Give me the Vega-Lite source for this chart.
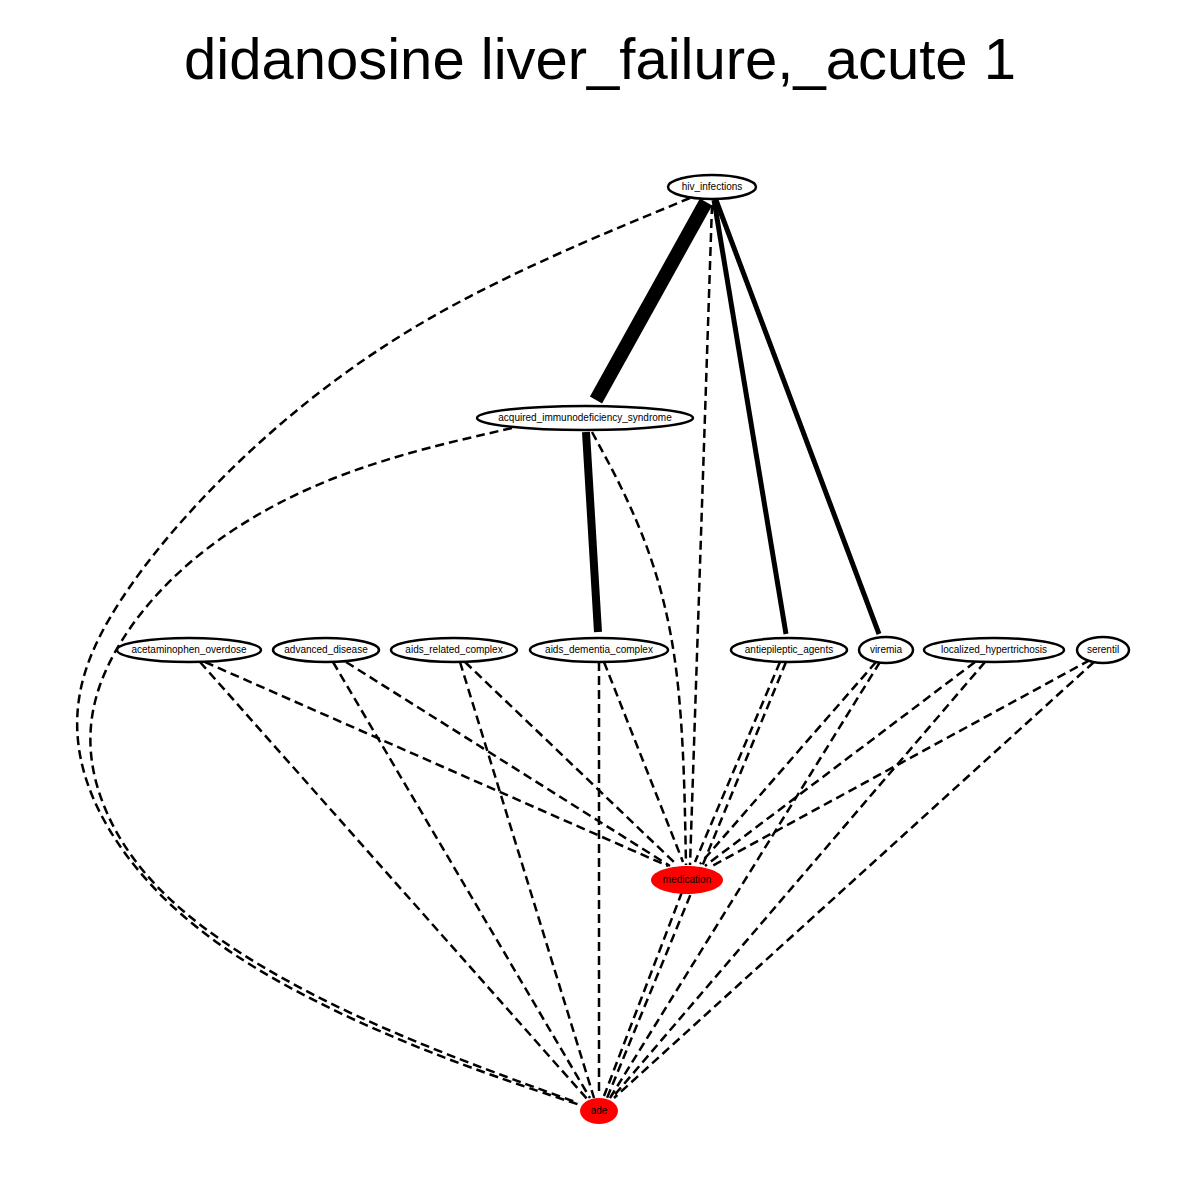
{
  "$schema": "https://vega.github.io/schema/vega-lite/v6.json",
  "width": 1200,
  "height": 1200,
  "autosize": {"type": "fit", "contains": "padding"},
  "padding": 0,
  "background": "white",
  "config": {"view": {"stroke": null}},
  "datasets": {
    "edges": [
      {"edge": "hiv-aids", "i": 0, "x": 706, "y": 202, "style": "solid", "w": 14},
      {"edge": "hiv-aids", "i": 1, "x": 596, "y": 400, "style": "solid", "w": 14},
      {"edge": "aids-dem", "i": 0, "x": 586, "y": 432, "style": "solid", "w": 8},
      {"edge": "aids-dem", "i": 1, "x": 598, "y": 632, "style": "solid", "w": 8},
      {"edge": "hiv-anti", "i": 0, "x": 714, "y": 200, "style": "solid", "w": 5},
      {"edge": "hiv-anti", "i": 1, "x": 786, "y": 634, "style": "solid", "w": 5},
      {"edge": "hiv-vir", "i": 0, "x": 716, "y": 200, "style": "solid", "w": 5},
      {"edge": "hiv-vir", "i": 1, "x": 879, "y": 634, "style": "solid", "w": 5},
      {"edge": "hiv-ade", "i": 0, "x": 690, "y": 198, "style": "dashed", "w": 2.5},
      {"edge": "hiv-ade", "i": 1, "x": 420, "y": 310, "style": "dashed", "w": 2.5},
      {"edge": "hiv-ade", "i": 2, "x": 230, "y": 460, "style": "dashed", "w": 2.5},
      {"edge": "hiv-ade", "i": 3, "x": 105, "y": 610, "style": "dashed", "w": 2.5},
      {"edge": "hiv-ade", "i": 4, "x": 66, "y": 715, "style": "dashed", "w": 2.5},
      {"edge": "hiv-ade", "i": 5, "x": 95, "y": 825, "style": "dashed", "w": 2.5},
      {"edge": "hiv-ade", "i": 6, "x": 200, "y": 945, "style": "dashed", "w": 2.5},
      {"edge": "hiv-ade", "i": 7, "x": 400, "y": 1045, "style": "dashed", "w": 2.5},
      {"edge": "hiv-ade", "i": 8, "x": 580, "y": 1105, "style": "dashed", "w": 2.5},
      {"edge": "aids-ade", "i": 0, "x": 512, "y": 428, "style": "dashed", "w": 2.5},
      {"edge": "aids-ade", "i": 1, "x": 330, "y": 470, "style": "dashed", "w": 2.5},
      {"edge": "aids-ade", "i": 2, "x": 175, "y": 560, "style": "dashed", "w": 2.5},
      {"edge": "aids-ade", "i": 3, "x": 82, "y": 690, "style": "dashed", "w": 2.5},
      {"edge": "aids-ade", "i": 4, "x": 92, "y": 805, "style": "dashed", "w": 2.5},
      {"edge": "aids-ade", "i": 5, "x": 170, "y": 915, "style": "dashed", "w": 2.5},
      {"edge": "aids-ade", "i": 6, "x": 350, "y": 1020, "style": "dashed", "w": 2.5},
      {"edge": "aids-ade", "i": 7, "x": 578, "y": 1103, "style": "dashed", "w": 2.5},
      {"edge": "aids-med", "i": 0, "x": 592, "y": 432, "style": "dashed", "w": 2.5},
      {"edge": "aids-med", "i": 1, "x": 645, "y": 530, "style": "dashed", "w": 2.5},
      {"edge": "aids-med", "i": 2, "x": 682, "y": 660, "style": "dashed", "w": 2.5},
      {"edge": "aids-med", "i": 3, "x": 686, "y": 865, "style": "dashed", "w": 2.5},
      {"edge": "hiv-med", "i": 0, "x": 712, "y": 205, "style": "dashed", "w": 2.5},
      {"edge": "hiv-med", "i": 1, "x": 690, "y": 865, "style": "dashed", "w": 2.5},
      {"edge": "acet-med", "i": 0, "x": 205, "y": 662, "style": "dashed", "w": 2.5},
      {"edge": "acet-med", "i": 1, "x": 668, "y": 866, "style": "dashed", "w": 2.5},
      {"edge": "acet-ade", "i": 0, "x": 200, "y": 662, "style": "dashed", "w": 2.5},
      {"edge": "acet-ade", "i": 1, "x": 588, "y": 1100, "style": "dashed", "w": 2.5},
      {"edge": "adv-med", "i": 0, "x": 346, "y": 662, "style": "dashed", "w": 2.5},
      {"edge": "adv-med", "i": 1, "x": 670, "y": 866, "style": "dashed", "w": 2.5},
      {"edge": "adv-ade", "i": 0, "x": 333, "y": 662, "style": "dashed", "w": 2.5},
      {"edge": "adv-ade", "i": 1, "x": 590, "y": 1098, "style": "dashed", "w": 2.5},
      {"edge": "arc-med", "i": 0, "x": 465, "y": 662, "style": "dashed", "w": 2.5},
      {"edge": "arc-med", "i": 1, "x": 676, "y": 864, "style": "dashed", "w": 2.5},
      {"edge": "arc-ade", "i": 0, "x": 460, "y": 662, "style": "dashed", "w": 2.5},
      {"edge": "arc-ade", "i": 1, "x": 594, "y": 1098, "style": "dashed", "w": 2.5},
      {"edge": "dem-med", "i": 0, "x": 604, "y": 662, "style": "dashed", "w": 2.5},
      {"edge": "dem-med", "i": 1, "x": 683, "y": 862, "style": "dashed", "w": 2.5},
      {"edge": "dem-ade", "i": 0, "x": 599, "y": 662, "style": "dashed", "w": 2.5},
      {"edge": "dem-ade", "i": 1, "x": 599, "y": 1096, "style": "dashed", "w": 2.5},
      {"edge": "anti-med", "i": 0, "x": 780, "y": 662, "style": "dashed", "w": 2.5},
      {"edge": "anti-med", "i": 1, "x": 695, "y": 862, "style": "dashed", "w": 2.5},
      {"edge": "anti-ade", "i": 0, "x": 786, "y": 662, "style": "dashed", "w": 2.5},
      {"edge": "anti-ade", "i": 1, "x": 607, "y": 1098, "style": "dashed", "w": 2.5},
      {"edge": "vir-med", "i": 0, "x": 876, "y": 662, "style": "dashed", "w": 2.5},
      {"edge": "vir-med", "i": 1, "x": 700, "y": 864, "style": "dashed", "w": 2.5},
      {"edge": "vir-ade", "i": 0, "x": 880, "y": 662, "style": "dashed", "w": 2.5},
      {"edge": "vir-ade", "i": 1, "x": 610, "y": 1098, "style": "dashed", "w": 2.5},
      {"edge": "loc-med", "i": 0, "x": 975, "y": 662, "style": "dashed", "w": 2.5},
      {"edge": "loc-med", "i": 1, "x": 705, "y": 866, "style": "dashed", "w": 2.5},
      {"edge": "loc-ade", "i": 0, "x": 985, "y": 662, "style": "dashed", "w": 2.5},
      {"edge": "loc-ade", "i": 1, "x": 612, "y": 1098, "style": "dashed", "w": 2.5},
      {"edge": "ser-med", "i": 0, "x": 1090, "y": 660, "style": "dashed", "w": 2.5},
      {"edge": "ser-med", "i": 1, "x": 712, "y": 866, "style": "dashed", "w": 2.5},
      {"edge": "ser-ade", "i": 0, "x": 1094, "y": 662, "style": "dashed", "w": 2.5},
      {"edge": "ser-ade", "i": 1, "x": 614, "y": 1098, "style": "dashed", "w": 2.5},
      {"edge": "med-ade", "i": 0, "x": 682, "y": 892, "style": "dashed", "w": 2.5},
      {"edge": "med-ade", "i": 1, "x": 604, "y": 1096, "style": "dashed", "w": 2.5}
    ],
    "nodes": [
      {"node": "hiv_infections", "x": 712, "y": 187, "kind": "node"},
      {"node": "acquired_immunodeficiency_syndrome", "x": 585, "y": 418, "kind": "node"},
      {"node": "acetaminophen_overdose", "x": 189, "y": 650, "kind": "node"},
      {"node": "advanced_disease", "x": 326, "y": 650, "kind": "node"},
      {"node": "aids_related_complex", "x": 454, "y": 650, "kind": "node"},
      {"node": "aids_dementia_complex", "x": 599, "y": 650, "kind": "node"},
      {"node": "antiepileptic_agents", "x": 789, "y": 650, "kind": "node"},
      {"node": "viremia", "x": 886, "y": 650, "kind": "node"},
      {"node": "localized_hypertrichosis", "x": 994, "y": 650, "kind": "node"},
      {"node": "serentil", "x": 1103, "y": 650, "kind": "node"},
      {"node": "medication", "x": 687, "y": 880, "kind": "outcome"},
      {"node": "ade", "x": 599, "y": 1111, "kind": "outcome"}
    ],
    "title": [
      {"label": "didanosine liver_failure,_acute 1", "x": 600, "y": 62}
    ]
  },
  "encoding": {
    "x": {"field": "x", "type": "quantitative", "scale": {"domain": [0, 1200]}, "axis": null},
    "y": {"field": "y", "type": "quantitative", "scale": {"domain": [0, 1200], "reverse": true}, "axis": null}
  },
  "layer": [
    {
      "data": {"name": "edges"},
      "mark": {"type": "line", "interpolate": "basis", "color": "black", "strokeCap": "butt"},
      "encoding": {
        "detail": {"field": "edge"},
        "order": {"field": "i", "type": "quantitative"},
        "strokeDash": {"field": "style", "type": "nominal", "scale": {"domain": ["solid", "dashed"], "range": [[1, 0], [9, 5]]}, "legend": null},
        "strokeWidth": {"field": "w", "type": "quantitative", "scale": {"domain": [0, 14], "range": [0, 14]}, "legend": null}
      }
    },
    {
      "data": {"name": "nodes"},
      "mark": {"type": "point", "filled": true, "size": 4, "stroke": "black"},
      "encoding": {
        "shape": {
          "field": "node", "type": "nominal", "legend": null,
          "scale": {
            "domain": ["hiv_infections", "acquired_immunodeficiency_syndrome", "acetaminophen_overdose", "advanced_disease", "aids_related_complex", "aids_dementia_complex", "antiepileptic_agents", "viremia", "localized_hypertrichosis", "serentil", "medication", "ade"],
            "range": [
              "M -44 0 A 44 12 0 1 1 44 0 A 44 12 0 1 1 -44 0 Z",
              "M -108 0 A 108 12 0 1 1 108 0 A 108 12 0 1 1 -108 0 Z",
              "M -72 0 A 72 12 0 1 1 72 0 A 72 12 0 1 1 -72 0 Z",
              "M -53 0 A 53 12 0 1 1 53 0 A 53 12 0 1 1 -53 0 Z",
              "M -63 0 A 63 12 0 1 1 63 0 A 63 12 0 1 1 -63 0 Z",
              "M -69 0 A 69 12 0 1 1 69 0 A 69 12 0 1 1 -69 0 Z",
              "M -58 0 A 58 12 0 1 1 58 0 A 58 12 0 1 1 -58 0 Z",
              "M -27 0 A 27 13 0 1 1 27 0 A 27 13 0 1 1 -27 0 Z",
              "M -70 0 A 70 12 0 1 1 70 0 A 70 12 0 1 1 -70 0 Z",
              "M -26 0 A 26 13 0 1 1 26 0 A 26 13 0 1 1 -26 0 Z",
              "M -36 0 A 36 14 0 1 1 36 0 A 36 14 0 1 1 -36 0 Z",
              "M -19 0 A 19 13 0 1 1 19 0 A 19 13 0 1 1 -19 0 Z"
            ]
          }
        },
        "fill": {"field": "kind", "type": "nominal", "scale": {"domain": ["node", "outcome"], "range": ["white", "#ff0000"]}, "legend": null},
        "strokeWidth": {"field": "kind", "type": "nominal", "scale": {"domain": ["node", "outcome"], "range": [2.5, 0]}, "legend": null},
        "opacity": {"value": 1}
      }
    },
    {
      "data": {"name": "nodes"},
      "mark": {"type": "text", "font": "Liberation Sans", "fontSize": 10, "color": "black"},
      "encoding": {"text": {"field": "node"}}
    },
    {
      "data": {"name": "title"},
      "mark": {"type": "text", "font": "Liberation Sans", "fontSize": 58, "color": "black"},
      "encoding": {"text": {"field": "label"}}
    }
  ]
}
